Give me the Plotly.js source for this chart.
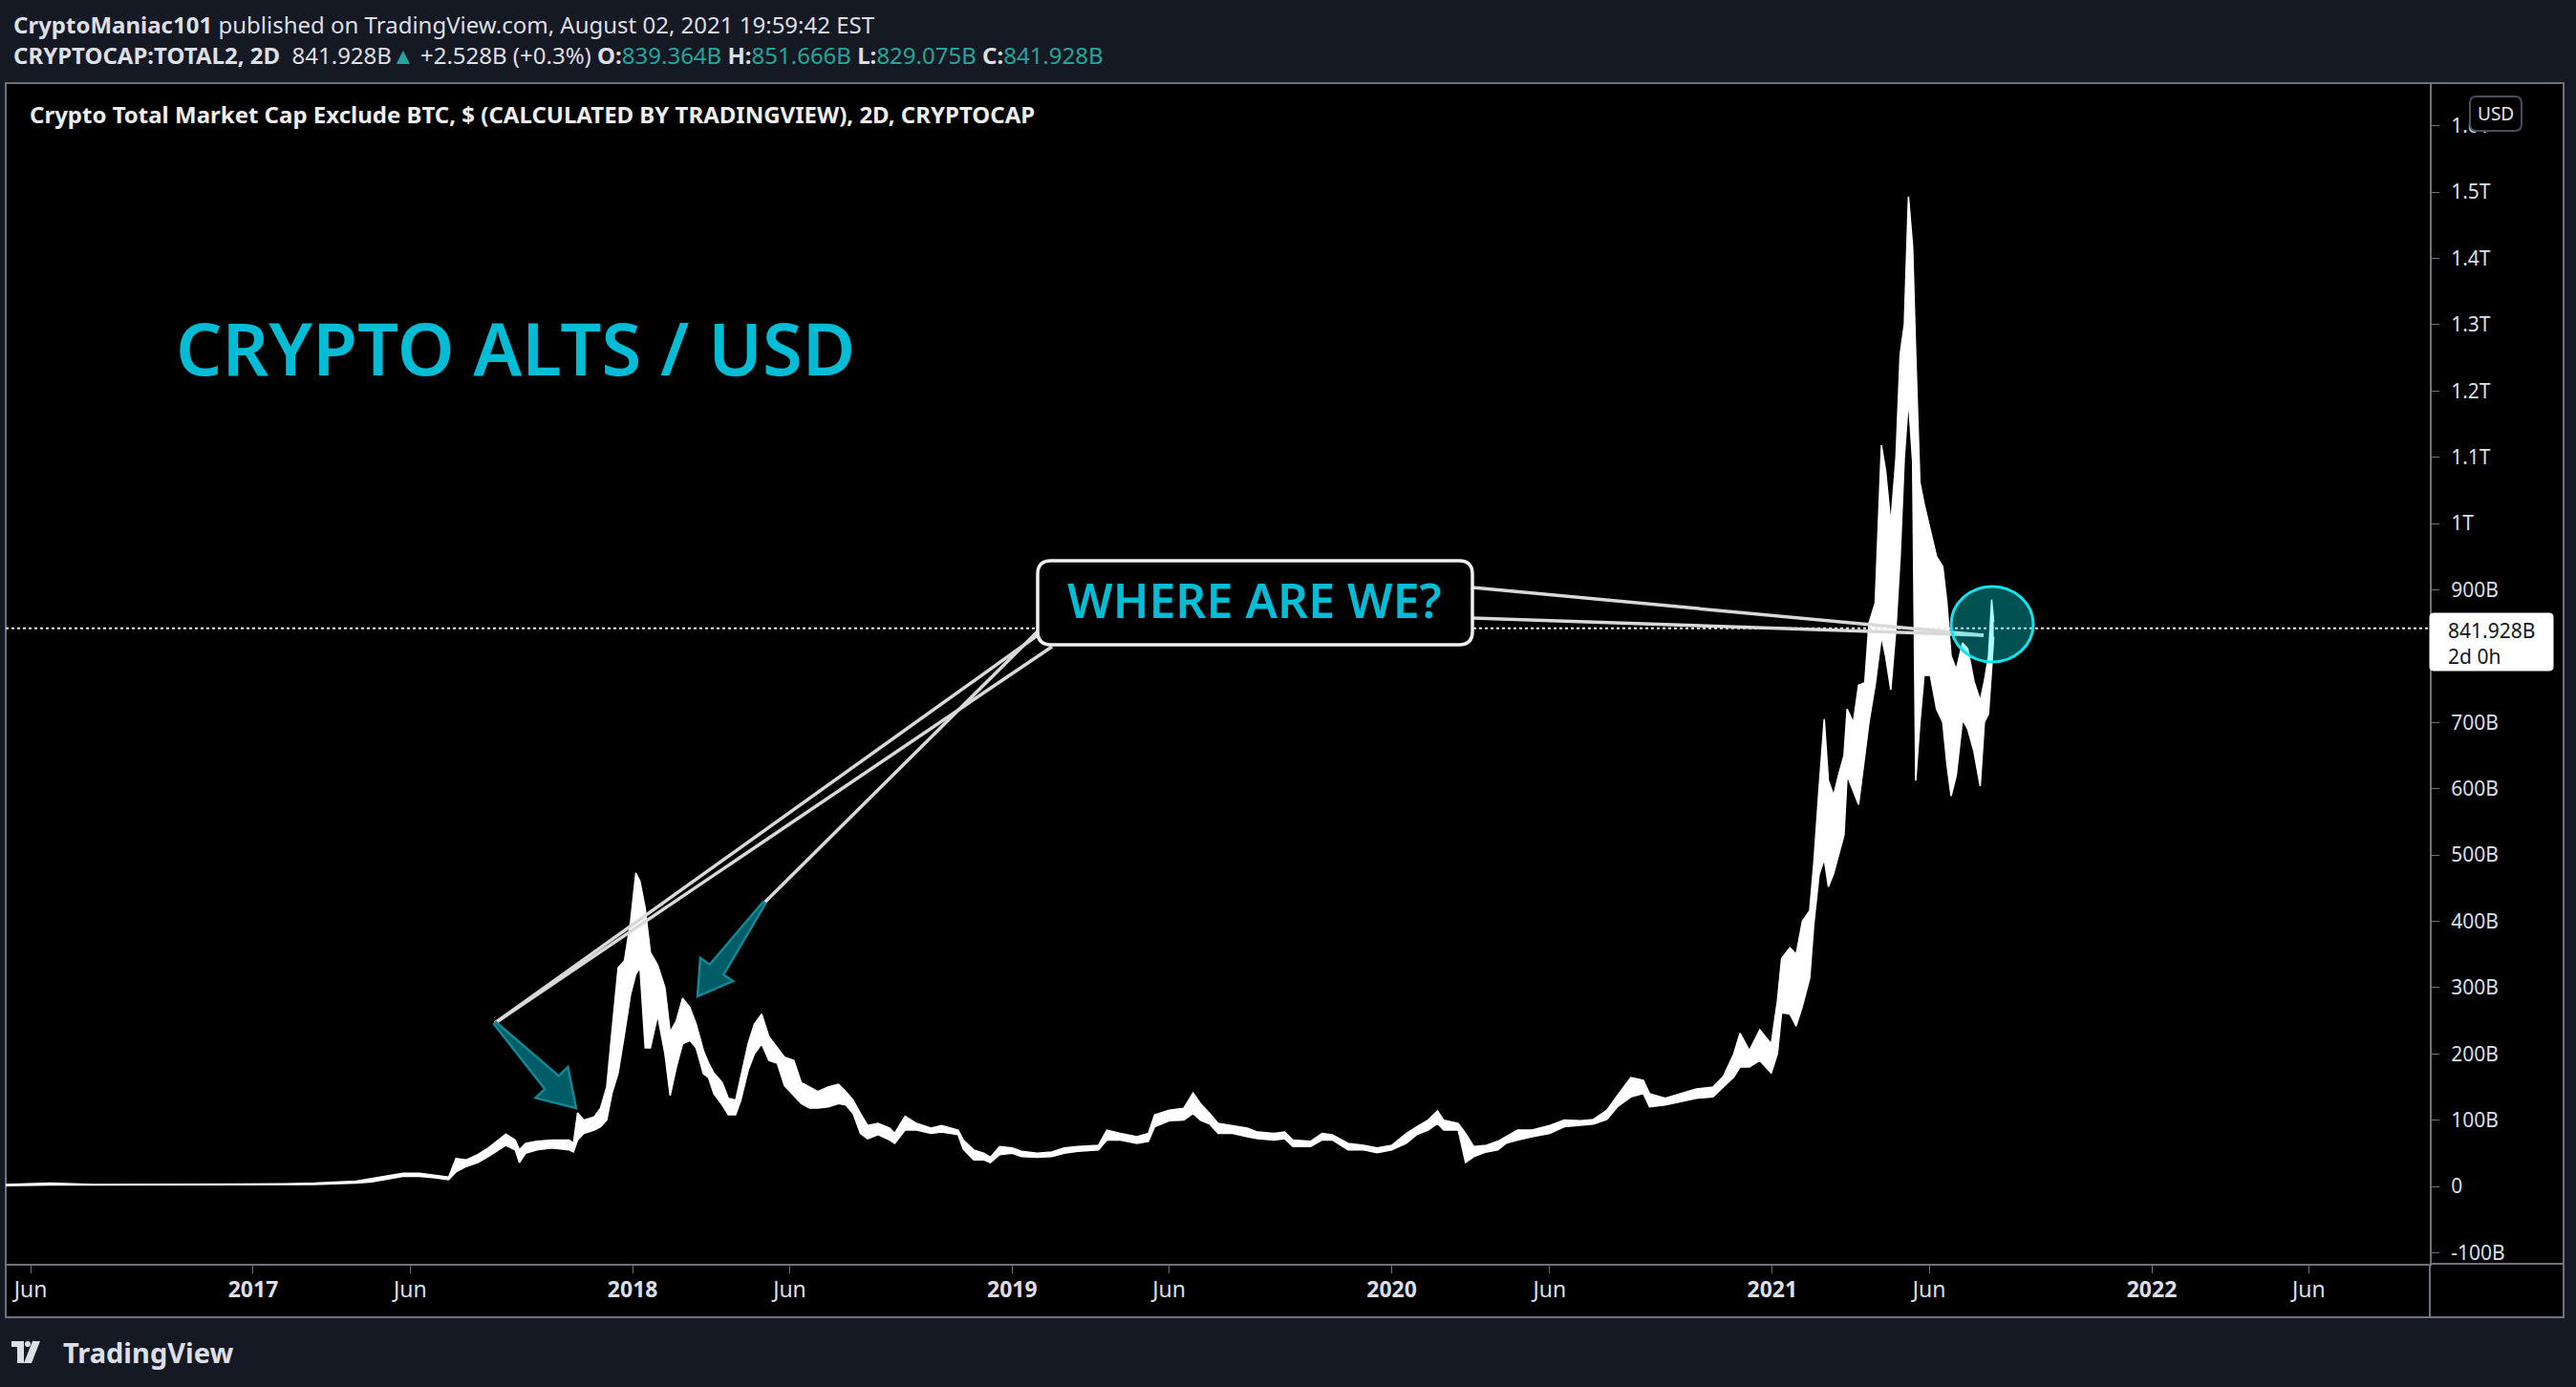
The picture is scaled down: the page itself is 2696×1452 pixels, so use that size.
<!DOCTYPE html>
<html>
<head>
<meta charset="utf-8">
<script src="https://cdn.plot.ly/plotly-3.0.1.min.js"></script>
<style>
  html, body { margin: 0; padding: 0; background: #151924; }
  #chart { width: 2696px; height: 1452px; }
</style>
</head>
<body>
<div id="chart"></div>
<script>
// ---------------- DATA (values in billions USD) ----------------
const dates = [
  '2016-05-08','2016-06-01','2016-06-20','2016-08-01','2016-10-01','2016-12-01','2017-01-01','2017-02-01',
  '2017-03-01','2017-03-20','2017-04-10','2017-04-25','2017-05-10','2017-05-25','2017-06-10','2017-06-25',
  '2017-07-08','2017-07-15','2017-07-25','2017-08-05','2017-08-15','2017-08-25','2017-09-01','2017-09-10',
  '2017-09-14','2017-09-20','2017-10-01','2017-10-15','2017-11-01','2017-11-05','2017-11-09','2017-11-15',
  '2017-11-25','2017-12-01','2017-12-07','2017-12-12','2017-12-18','2017-12-24','2017-12-30','2018-01-04',
  '2018-01-08','2018-01-13','2018-01-18','2018-01-25','2018-02-01','2018-02-06','2018-02-12','2018-02-18',
  '2018-02-25','2018-03-03','2018-03-10','2018-03-15','2018-03-20','2018-03-28','2018-04-03','2018-04-10',
  '2018-04-15','2018-04-22','2018-04-28','2018-05-05','2018-05-12','2018-05-20','2018-05-27','2018-06-05',
  '2018-06-12','2018-06-20','2018-06-28','2018-07-08','2018-07-18','2018-07-25','2018-08-01','2018-08-08',
  '2018-08-15','2018-08-25','2018-09-05','2018-09-10','2018-09-20','2018-10-01','2018-10-15','2018-10-25',
  '2018-11-10','2018-11-15','2018-11-25','2018-12-05','2018-12-11','2018-12-20','2019-01-01','2019-01-10',
  '2019-01-25','2019-02-08','2019-02-20','2019-03-05','2019-03-25','2019-04-02','2019-04-15','2019-05-01',
  '2019-05-12','2019-05-18','2019-06-01','2019-06-15','2019-06-24','2019-07-01','2019-07-10','2019-07-18',
  '2019-08-01','2019-08-15','2019-08-25','2019-09-10','2019-09-20','2019-09-28','2019-10-15','2019-10-26',
  '2019-11-05','2019-11-20','2019-12-05','2019-12-18','2020-01-01','2020-01-15','2020-01-25','2020-02-05',
  '2020-02-14','2020-02-20','2020-03-05','2020-03-12','2020-03-20','2020-04-01','2020-04-12','2020-04-20',
  '2020-05-01','2020-05-15','2020-06-01','2020-06-15','2020-07-01','2020-07-13','2020-07-26','2020-08-05',
  '2020-08-18','2020-08-30','2020-09-05','2020-09-20','2020-10-05','2020-10-20','2020-11-05','2020-11-15',
  '2020-11-25','2020-12-01','2020-12-10','2020-12-20','2020-12-31','2021-01-06','2021-01-10','2021-01-18',
  '2021-01-24','2021-01-30','2021-02-06','2021-02-10','2021-02-15','2021-02-20','2021-02-24','2021-03-01',
  '2021-03-06','2021-03-11','2021-03-14','2021-03-20','2021-03-25','2021-03-31','2021-04-04','2021-04-10',
  '2021-04-16','2021-04-20','2021-04-25','2021-04-30','2021-05-04','2021-05-08','2021-05-12','2021-05-16',
  '2021-05-19','2021-05-23','2021-05-27','2021-06-02','2021-06-08','2021-06-14','2021-06-18','2021-06-22',
  '2021-06-27','2021-07-03','2021-07-08','2021-07-14','2021-07-20','2021-07-24','2021-07-28','2021-07-31',
  '2021-08-02'
];
const highB = [
  3,4,5,3,3,3,3,4,
  5,6,8,12,16,20,20,17,
  14,42,40,48,58,70,79,70,
  55,65,68,70,70,65,111,100,
  105,118,150,233,330,340,400,473,
  460,420,353,334,300,233,250,284,
  270,245,205,186,171,157,133,130,
  166,215,245,260,226,209,195,190,
  157,150,143,150,154,143,130,110,
  92,95,88,80,106,95,88,92,
  85,70,55,50,44,60,58,53,
  50,52,58,60,62,85,80,75,
  80,108,115,118,141,125,110,95,
  92,88,82,80,82,70,68,80,
  78,65,62,58,62,80,90,100,
  114,100,95,80,60,62,68,75,
  85,85,92,100,99,101,115,137,
  164,160,140,133,140,147,150,166,
  200,231,205,236,215,280,344,360,
  350,400,416,488,600,705,612,590,
  622,650,720,700,756,760,850,880,
  1118,1080,1000,1100,1255,1300,1493,1418,
  1255,1062,1030,990,950,935,880,800,
  780,820,811,762,733,762,800,885,
  852
];
const lowB = [
  1,2,2,2,2,2,2,2,
  3,4,5,7,11,15,15,13,
  10,22,30,36,45,55,62,55,
  36,50,55,58,55,52,70,80,
  85,90,100,140,171,229,290,320,
  330,209,209,258,200,137,180,215,
  220,209,170,164,140,123,108,108,
  130,175,200,215,190,186,152,137,
  125,118,118,120,125,123,110,80,
  72,78,70,65,85,85,80,82,
  78,56,40,40,36,48,50,45,
  44,45,50,53,55,70,70,65,
  68,90,99,100,110,100,94,80,
  80,75,72,70,72,60,60,70,
  70,55,55,51,55,65,78,85,
  95,85,85,36,45,52,55,65,
  70,75,80,90,92,94,101,120,
  135,140,120,123,128,133,135,150,
  165,180,180,190,171,200,262,260,
  242,272,314,396,470,494,452,472,
  500,530,620,597,576,650,700,757,
  830,800,749,843,950,1099,1187,1093,
  612,700,771,771,720,700,637,589,
  620,704,690,656,604,700,713,781,
  829
];
const lastPrice = 841.928;

const xTickVals = ['2016-06-01','2017-01-01','2017-06-01','2018-01-01','2018-06-01','2019-01-01','2019-06-01',
                   '2020-01-01','2020-06-01','2021-01-01','2021-06-01','2022-01-01','2022-06-01'];
const xTickText = ['Jun','<b>2017</b>','Jun','<b>2018</b>','Jun','<b>2019</b>','Jun',
                   '<b>2020</b>','Jun','<b>2021</b>','Jun','<b>2022</b>','Jun'];
const yTickVals = [-100,0,100,200,300,400,500,600,700,900,1000,1100,1200,1300,1400,1500,1600];
const yTickText = ['-100B','0','100B','200B','300B','400B','500B','600B','700B','900B','1T','1.1T','1.2T','1.3T','1.4T','1.5T','1.6T'];

// ---------------- LAYOUT HELPERS (pixel -> paper) ----------------
const W = 2696, H = 1452;
const PL = 6, PR = 2543, PT = 87, PB = 1323;
function fx(p) { return (p - PL) / (PR - PL); }
function fy(p) { return (PB - p) / (PB - PT); }
function pathFromPx(pts) {
  return 'M' + pts.map(p => fx(p[0]).toFixed(5) + ',' + fy(p[1]).toFixed(5)).join(' L') + ' Z';
}
function roundRectPath(x0, y0, x1, y1, r) {
  const P = (x, y) => fx(x).toFixed(5) + ',' + fy(y).toFixed(5);
  return 'M' + P(x0 + r, y0) + ' L' + P(x1 - r, y0) + ' Q' + P(x1, y0) + ' ' + P(x1, y0 + r) +
         ' L' + P(x1, y1 - r) + ' Q' + P(x1, y1) + ' ' + P(x1 - r, y1) +
         ' L' + P(x0 + r, y1) + ' Q' + P(x0, y1) + ' ' + P(x0, y1 - r) +
         ' L' + P(x0, y0 + r) + ' Q' + P(x0, y0) + ' ' + P(x0 + r, y0) + ' Z';
}
function arrowPath(tail, tip, along, shaftHalf, barbHalf) {
  const dx = tip[0] - tail[0], dy = tip[1] - tail[1];
  const Lg = Math.hypot(dx, dy);
  const ux = dx / Lg, uy = dy / Lg, nx = -uy, ny = ux;
  const bx = tail[0] + ux * along, by = tail[1] + uy * along;
  const pts = [
    [tail[0] + nx * 1.5, tail[1] + ny * 1.5],
    [bx + nx * shaftHalf, by + ny * shaftHalf],
    [bx + nx * barbHalf, by + ny * barbHalf],
    tip,
    [bx - nx * barbHalf, by - ny * barbHalf],
    [bx - nx * shaftHalf, by - ny * shaftHalf],
    [tail[0] - nx * 1.5, tail[1] - ny * 1.5]
  ];
  return pathFromPx(pts);
}

const GRAY = '#6f727c';
const TXT = '#dcdfe6';
const CYAN = '#00bcd4';
const TEAL = '#26a69a';

const shapes = [
  {type:'rect', xref:'paper', yref:'paper', x0:fx(6), x1:fx(2683), y0:fy(87), y1:fy(1379),
   fillcolor:'#000000', line:{color:GRAY, width:2}, layer:'below'},
  {type:'line', xref:'paper', yref:'paper', x0:fx(2543), x1:fx(2683), y0:fy(1323), y1:fy(1323), line:{color:GRAY, width:2}},
  {type:'line', xref:'paper', yref:'paper', x0:fx(2543), x1:fx(2543), y0:fy(1323), y1:fy(1379), line:{color:GRAY, width:2}},
  {type:'line', xref:'paper', yref:'y', x0:0, x1:1, y0:lastPrice, y1:lastPrice, line:{color:'#e8e8e8', width:2, dash:'dot'}},
  {type:'line', xref:'paper', yref:'paper', x0:fx(1086), y0:fy(665), x1:fx(518), y1:fy(1071), line:{color:'#d9d9d9', width:3.5}},
  {type:'line', xref:'paper', yref:'paper', x0:fx(1101), y0:fy(677), x1:fx(518), y1:fy(1071), line:{color:'#d9d9d9', width:3.5}},
  {type:'line', xref:'paper', yref:'paper', x0:fx(1086), y0:fy(661), x1:fx(800), y1:fy(945), line:{color:'#d9d9d9', width:3.5}},
  {type:'line', xref:'paper', yref:'paper', x0:fx(1541), y0:fy(615), x1:fx(2076), y1:fy(665), line:{color:'#d9d9d9', width:3.5}},
  {type:'line', xref:'paper', yref:'paper', x0:fx(1541), y0:fy(647), x1:fx(2076), y1:fy(665), line:{color:'#d9d9d9', width:3.5}},
  {type:'path', xref:'paper', yref:'paper', path:roundRectPath(1086, 587, 1541, 675, 14),
   fillcolor:'#000000', line:{color:'#f0f0f0', width:3.5}},
  {type:'path', xref:'paper', yref:'paper', path:arrowPath([518,1071],[603,1160],86,10,23.5),
   fillcolor:'#005c66', line:{color:'#138894', width:2.5}},
  {type:'path', xref:'paper', yref:'paper', path:arrowPath([800,945],[730,1043],86,9,21),
   fillcolor:'#005c66', line:{color:'#138894', width:2.5}},
  {type:'circle', xref:'paper', yref:'paper', x0:fx(2042), x1:fx(2128), y0:fy(693), y1:fy(614),
   fillcolor:'rgba(0,255,255,0.32)', line:{color:'#12e4ef', width:3}},
  {type:'path', xref:'paper', yref:'paper', path:roundRectPath(2543, 642, 2672, 702, 4),
   fillcolor:'#ffffff', line:{color:'#ffffff', width:1}},
  {type:'path', xref:'paper', yref:'paper', path:roundRectPath(2585, 101, 2639, 137, 7),
   fillcolor:'#000000', line:{color:'#4a4e59', width:2}},
  {type:'rect', xref:'paper', yref:'paper', x0:fx(12), x1:fx(25), y0:fy(1410), y1:fy(1404), fillcolor:TXT, line:{width:0}},
  {type:'rect', xref:'paper', yref:'paper', x0:fx(18), x1:fx(25), y0:fy(1427), y1:fy(1404), fillcolor:TXT, line:{width:0}},
  {type:'circle', xref:'paper', yref:'paper', x0:fx(26), x1:fx(32), y0:fy(1410), y1:fy(1404), fillcolor:TXT, line:{width:0}},
  {type:'path', xref:'paper', yref:'paper', path:pathFromPx([[34,1404],[42,1404],[33,1427],[25,1427]]), fillcolor:TXT, line:{width:0}}
];

const annotations = [
  {xref:'paper', yref:'paper', x:fx(12), y:fy(25), xanchor:'left', yanchor:'middle', showarrow:false,
   text:'<b>CryptoManiac101</b> published on TradingView.com, August 02, 2021 19:59:42 EST',
   font:{family:'Noto Sans', size:24, color:TXT}},
  {xref:'paper', yref:'paper', x:fx(12), y:fy(58), xanchor:'left', yanchor:'middle', showarrow:false,
   text:'<b>CRYPTOCAP:TOTAL2, 2D</b>  841.928B<span style="color:' + TEAL + '">▲</span> +2.528B (+0.3%) <b>O:</b><span style="color:' + TEAL + '">839.364B</span> <b>H:</b><span style="color:' + TEAL + '">851.666B</span> <b>L:</b><span style="color:' + TEAL + '">829.075B</span> <b>C:</b><span style="color:' + TEAL + '">841.928B</span>',
   font:{family:'Noto Sans', size:24, color:TXT}},
  {xref:'paper', yref:'paper', x:fx(29), y:fy(119), xanchor:'left', yanchor:'middle', showarrow:false,
   text:'<b>Crypto Total Market Cap Exclude BTC, $ (CALCULATED BY TRADINGVIEW), 2D, CRYPTOCAP</b>',
   font:{family:'Noto Sans', size:24, color:'#eeeeee'}},
  {xref:'paper', yref:'paper', x:fx(182), y:fy(364), xanchor:'left', yanchor:'middle', showarrow:false,
   text:'CRYPTO ALTS / USD', font:{family:'Noto Sans', size:76, color:CYAN, weight:600}},
  {xref:'paper', yref:'paper', x:fx(1313), y:fy(628), xanchor:'center', yanchor:'middle', showarrow:false,
   text:'WHERE ARE WE?', font:{family:'Noto Sans', size:50, color:CYAN, weight:600}},
  {xref:'paper', yref:'paper', x:fx(2560), y:fy(660), xanchor:'left', yanchor:'middle', showarrow:false,
   text:'841.928B', font:{family:'Noto Sans', size:21, color:'#131722'}},
  {xref:'paper', yref:'paper', x:fx(2560), y:fy(687), xanchor:'left', yanchor:'middle', showarrow:false,
   text:'2d 0h', font:{family:'Noto Sans', size:21, color:'#131722'}},
  {xref:'paper', yref:'paper', x:fx(2612), y:fy(119), xanchor:'center', yanchor:'middle', showarrow:false,
   text:'USD', font:{family:'Noto Sans', size:19, color:'#e6e6e6'}},
  {xref:'paper', yref:'paper', x:fx(64), y:fy(1415), xanchor:'left', yanchor:'middle', showarrow:false,
   text:'<b>TradingView</b>', font:{family:'Noto Sans', size:29, color:TXT}}
];

const traces = [
  {x: dates, y: lowB, type:'scatter', mode:'lines', line:{color:'#ffffff', width:1.5}, hoverinfo:'skip', showlegend:false},
  {x: dates, y: highB, type:'scatter', mode:'lines', fill:'tonexty', fillcolor:'#ffffff',
   line:{color:'#ffffff', width:1.5}, hoverinfo:'skip', showlegend:false}
];

const layout = {
  width: W, height: H,
  paper_bgcolor:'#151924', plot_bgcolor:'#000000',
  margin:{l:PL, r:W-PR, t:PT, b:H-PB, pad:0},
  showlegend:false,
  xaxis:{type:'date', range:['2016-05-08','2022-09-25 10:00'], tickmode:'array', tickvals:xTickVals, ticktext:xTickText,
         showgrid:false, zeroline:false, showline:true, linecolor:GRAY, linewidth:2,
         ticks:'outside', ticklen:8, tickwidth:1, tickcolor:GRAY, ticklabelstandoff:-3,
         tickfont:{family:'Noto Sans', size:23, color:TXT}, fixedrange:true},
  yaxis:{side:'right', range:[-116.7, 1664.3], tickmode:'array', tickvals:yTickVals, ticktext:yTickText,
         showgrid:false, zeroline:false, showline:true, linecolor:GRAY, linewidth:2,
         ticks:'outside', ticklen:8, tickwidth:1, tickcolor:GRAY, ticklabelstandoff:8,
         tickfont:{family:'Noto Sans', size:21, color:TXT}, fixedrange:true},
  shapes: shapes,
  annotations: annotations
};

Plotly.newPlot('chart', traces, layout, {displayModeBar:false, staticPlot:true});
</script>
</body>
</html>
